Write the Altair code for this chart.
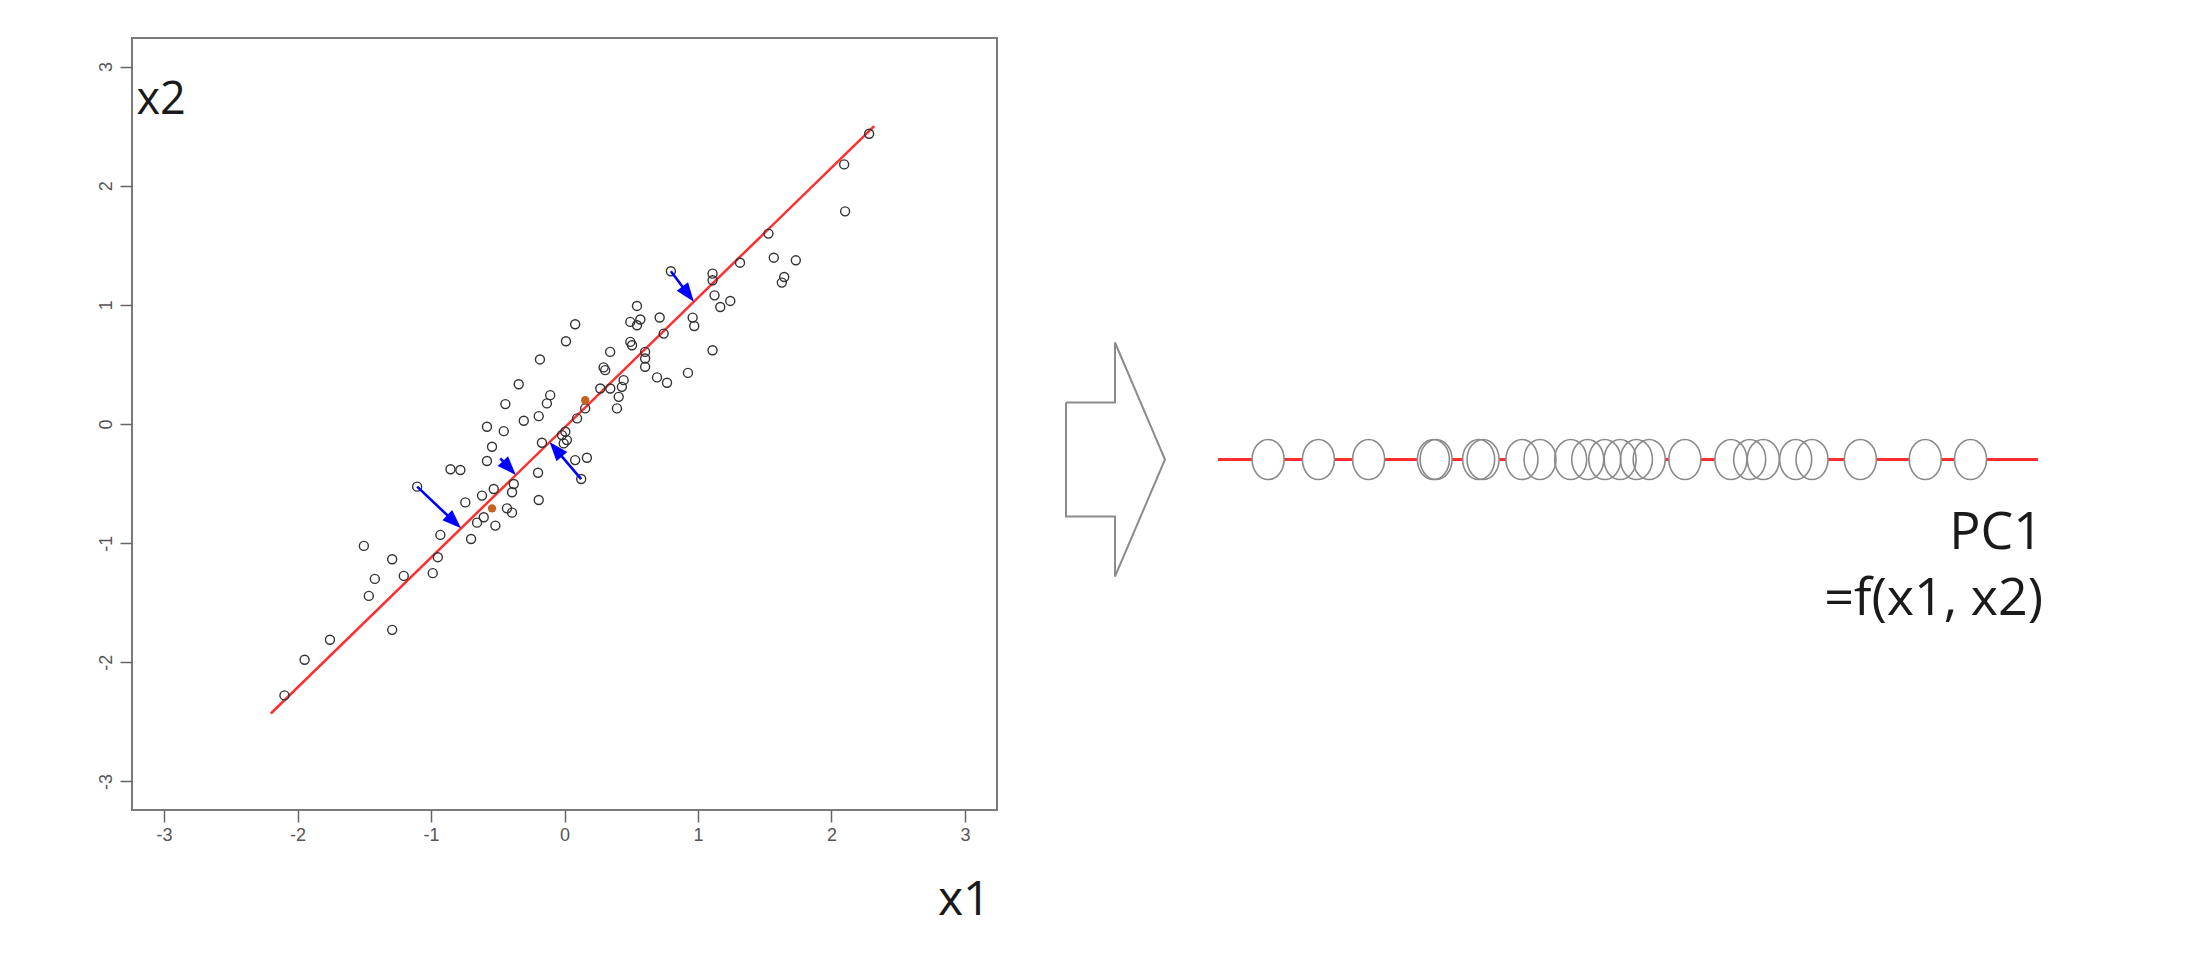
import math
import pandas as pd
import altair as alt

# observed points (x1, x2)
x1 = [2.282, 2.095, 2.102, 1.528, 1.568, 1.733, 1.646, 1.628, 1.315, 0.797,
      1.109, 1.109, 1.124, 1.167, 1.242, 0.960, 0.972, 1.109,
      0.543, 0.493, 0.568, 0.543, 0.713, 0.743, 0.925, 0.080, 0.011, -0.184,
      0.342, 0.493, 0.506, 0.604, 0.604, 0.604, 0.293, 0.305, 0.693, 0.768,
      0.268, 0.343, 0.430, 0.443, 0.406, 0.393, 0.155, 0.094, 0.006, -0.019,
      0.018, -0.006, -0.169, -0.343, -0.443, -0.107, -0.132, -0.305, -0.193,
      -0.581, -0.455, -0.543, -0.581, -0.780, 0.080, 0.168, 0.125, -0.198,
      -0.193, -0.380, -0.393, -0.618, -0.530, -0.743, -0.431, -0.393, -0.605,
      -0.854, -1.104, -0.655, -0.518, -0.930, -0.700, -0.949, -0.987, -1.291,
      -1.204, -1.503, -1.421, -1.466, -1.291, -1.757, -1.947, -2.098]
x2 = [2.436, 2.179, 1.785, 1.598, 1.396, 1.374, 1.234, 1.187, 1.354, 1.282,
      1.262, 1.206, 1.080, 0.982, 1.033, 0.893, 0.823, 0.619,
      0.991, 0.857, 0.877, 0.829, 0.894, 0.759, 0.429, 0.837, 0.695, 0.542,
      0.605, 0.689, 0.661, 0.605, 0.550, 0.480, 0.475, 0.452, 0.391, 0.346,
      0.298, 0.298, 0.312, 0.368, 0.228, 0.131, 0.131, 0.047, -0.065, -0.093,
      -0.135, -0.163, -0.157, 0.334, 0.167, 0.242, 0.173, 0.027, 0.066,
      -0.023, -0.060, -0.191, -0.311, -0.386, -0.303, -0.283, -0.462, -0.409,
      -0.638, -0.504, -0.573, -0.601, -0.546, -0.658, -0.708, -0.744, -0.783,
      -0.380, -0.526, -0.828, -0.853, -0.931, -0.965, -1.118, -1.252, -1.135,
      -1.275, -1.023, -1.300, -1.443, -1.728, -1.811, -1.979, -2.278]

# highlighted (filled) points
hl_x1 = [0.155, -0.543]
hl_x2 = [0.200, -0.708]

# fitted first principal axis
axis_x1 = [-2.20, 2.32]
axis_x2 = [-2.43, 2.50]

# projection arrows: start point -> point on the axis
arr_from_x1 = [0.797, -0.481, 0.125, -1.104]
arr_from_x2 = [1.282, -0.288, -0.462, -0.526]
arr_to_x1 = [0.969, -0.365, -0.112, -0.775]
arr_to_x2 = [1.027, -0.428, -0.152, -0.875]

# scores on PC1 (right panel)
pc1_scores = [-2.933, -2.523, -2.114, -1.586, -1.564, -1.217, -1.181, -0.864,
              -0.717, -0.467, -0.328, -0.189, -0.064, 0.069, 0.173, 0.464,
              0.839, 0.992, 1.103, 1.367, 1.500, 1.894, 2.423, 2.792]
pc1_line = [-3.342, 3.342]
pc1_label = "PC1\n=f(x1, x2)"

# block arrow outline between the panels
block_x = [0, 49, 49, 99, 49, 49, 0, 0]
block_y = [57, 57, 117, 0, -117, -57, -57, 57]

W, H = 865, 772
lim = [-3.24, 3.24]
ticks = [-3, -2, -1, 0, 1, 2, 3]
sx = W / (lim[1] - lim[0])
sy = H / (lim[1] - lim[0])

RED = "#ff2d2d"
BLUE = "#0000ff"
txt_font = "Open Sans"

pts = pd.DataFrame({"x1": x1, "x2": x2})
hl = pd.DataFrame({"x1": hl_x1, "x2": hl_x2})
axis_df = pd.DataFrame({"x1": axis_x1, "x2": axis_x2})

rows = []
for fx, fy, tx, ty in zip(arr_from_x1, arr_from_x2, arr_to_x1, arr_to_x2):
    dx = (tx - fx) * sx
    dy = (ty - fy) * sy
    n = math.hypot(dx, dy)
    rows.append({
        "fx": fx, "fy": fy, "tx": tx, "ty": ty,
        "ex": tx - dx / n * 10 / sx, "ey": ty - dy / n * 10 / sy,
        "angle": math.degrees(math.atan2(dx, dy)) % 360,
    })
arrows = pd.DataFrame(rows)

xs = alt.Scale(domain=lim, nice=False, zero=False)
ys = alt.Scale(domain=lim, nice=False, zero=False)

x_axis = alt.Axis(values=ticks, grid=False, domain=False, tickSize=12,
                  tickColor="#666666", tickWidth=1.5, labelColor="#555555",
                  labelFont="Liberation Sans", labelFontSize=18, labelPadding=4,
                  labelExpr="'' + datum.value",
                  title="x1", titleFont=txt_font, titleFontSize=48,
                  titleFontWeight="normal", titleColor="#1a1a1a",
                  titleAnchor="end", titleAlign="right", titleBaseline="alphabetic",
                  titleX=858, titleY=104)
y_axis = alt.Axis(values=ticks, grid=False, domain=False, tickSize=12,
                  tickColor="#666666", tickWidth=1.5, labelColor="#555555",
                  labelFont="Liberation Sans", labelFontSize=18, labelPadding=5,
                  labelAngle=270, labelAlign="center", labelBaseline="bottom",
                  labelExpr="'' + datum.value",
                  title="x2", titleFont=txt_font, titleFontSize=45,
                  titleFontWeight="normal", titleColor="#1a1a1a", titleAngle=0,
                  titleAlign="left", titleBaseline="alphabetic",
                  titleX=4, titleY=75)

line = alt.Chart(axis_df).mark_line(color=RED, strokeWidth=2.5).encode(
    x=alt.X("x1:Q", scale=xs, axis=x_axis),
    y=alt.Y("x2:Q", scale=ys, axis=y_axis))

circles = alt.Chart(pts).mark_point(shape="circle", filled=False, size=81,
                                    color="#333333", strokeWidth=1.4, opacity=1).encode(
    x="x1:Q", y="x2:Q")

filled = alt.Chart(hl).mark_point(shape="circle", filled=True, size=70,
                                  color="#c4621f", opacity=1).encode(
    x="x1:Q", y="x2:Q")

shafts = alt.Chart(arrows).mark_rule(color=BLUE, strokeWidth=2.6).encode(
    x="fx:Q", y="fy:Q", x2="ex:Q", y2="ey:Q")

heads = alt.Chart(arrows).mark_point(shape="M0,0L0.75,2L-0.75,2Z", filled=True,
                                     size=361, color=BLUE, opacity=1).encode(
    x="tx:Q", y="ty:Q", angle=alt.Angle("angle:Q", scale=None))

scatter = alt.layer(line, circles, filled, shafts, heads).properties(
    width=W, height=H,
    view=alt.ViewBackground(stroke="#7a7a7a", strokeWidth=2))

# block arrow
blk = pd.DataFrame({"bx": block_x, "by": block_y, "i": list(range(len(block_x)))})
block = alt.Chart(blk).mark_line(color="#8c8c8c", strokeWidth=2).encode(
    x=alt.X("bx:Q", scale=alt.Scale(domain=[-67, 133], nice=False, zero=False), axis=None),
    y=alt.Y("by:Q", scale=alt.Scale(domain=[-350.5, 421.5], nice=False, zero=False), axis=None),
    order="i:Q").properties(width=200, height=H,
                            view=alt.ViewBackground(stroke="transparent"))

# PC1 panel
pcx = alt.Scale(domain=[-3.480, 3.725], nice=False, zero=False)
pcy = alt.Scale(domain=[-350.5, 421.5], nice=False, zero=False)
pc_line_df = pd.DataFrame({"s": pc1_line, "v": [0, 0]})
sc_df = pd.DataFrame({"s": pc1_scores, "v": [0] * len(pc1_scores)})
lab_df = pd.DataFrame({"s": [pc1_line[1]], "v": [0], "t": [pc1_label]})

ell = "M0,-1A0.8,1,0,1,1,0,1A0.8,1,0,1,1,0,-1Z"

pc_line = alt.Chart(pc_line_df).mark_line(color=RED, strokeWidth=3).encode(
    x=alt.X("s:Q", scale=pcx, axis=None), y=alt.Y("v:Q", scale=pcy, axis=None))
ell_fill = alt.Chart(sc_df).mark_point(shape=ell, filled=True, size=1600,
                                       color="white", opacity=1).encode(
    x=alt.X("s:Q", scale=pcx, axis=None), y=alt.Y("v:Q", scale=pcy, axis=None))
ell_line = alt.Chart(sc_df).mark_point(shape=ell, filled=False, size=1600,
                                       color="#8a8a8a", strokeWidth=1.6, opacity=1).encode(
    x=alt.X("s:Q", scale=pcx, axis=None), y=alt.Y("v:Q", scale=pcy, axis=None))
label = alt.Chart(lab_df).mark_text(align="right", baseline="alphabetic", dx=5, dy=89,
                                    lineBreak="\n", lineHeight=66, font=txt_font,
                                    fontSize=52, color="#1a1a1a").encode(
    x=alt.X("s:Q", scale=pcx, axis=None), y=alt.Y("v:Q", scale=pcy, axis=None),
    text="t:N")

pc_panel = alt.layer(pc_line, ell_fill, ell_line, label).properties(
    width=884, height=H, view=alt.ViewBackground(stroke="transparent"))

chart = alt.hconcat(scatter, block, pc_panel, spacing=0).properties(
    padding={"left": 88, "top": 29, "right": 5, "bottom": 5},
    background="white")

chart.save("out.html", embed_options={"renderer": "svg", "actions": False})
